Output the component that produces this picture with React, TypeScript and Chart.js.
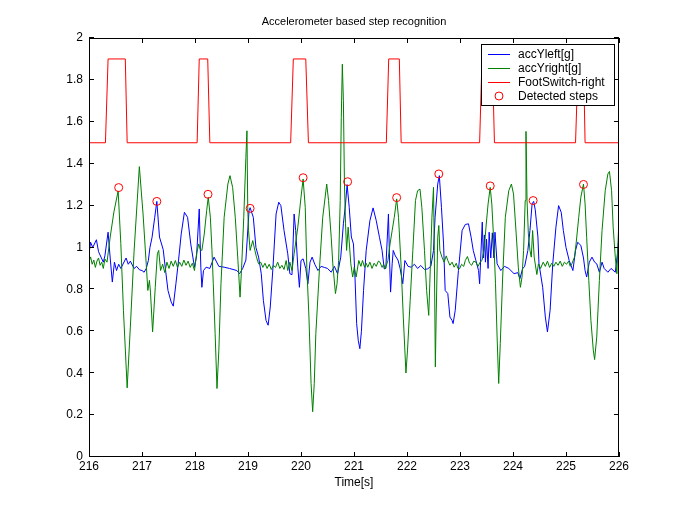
import React, { useEffect, useRef } from 'react';
import { Chart, registerables } from 'chart.js';

Chart.register(...registerables);

const TITLE = 'Accelerometer based step recognition';
const X_LABEL = 'Time[s]';
const SERIES_NAMES = ['accYleft[g]', 'accYright[g]', 'FootSwitch-right', 'Detected steps'];
const SERIES_COLORS = ['#0000ff', '#008000', '#ff0000', '#ff0000'];
const X_TICKS = [216, 217, 218, 219, 220, 221, 222, 223, 224, 225, 226];
const Y_TICKS = [0, 0.2, 0.4, 0.6, 0.8, 1, 1.2, 1.4, 1.6, 1.8, 2];

// accYleft[g]
const leftT = [
  216.00, 216.03, 216.07, 216.14, 216.18, 216.27, 216.30, 216.36, 216.40, 216.44, 216.48, 216.52, 216.56, 216.60,
  216.70, 216.74, 216.78, 216.85, 216.90, 216.95, 217.00, 217.04, 217.08, 217.12, 217.15, 217.19, 217.24, 217.28,
  217.33, 217.40, 217.45, 217.49, 217.55, 217.59, 217.64, 217.69, 217.74, 217.80, 217.86, 217.92, 217.99, 218.03,
  218.08, 218.11, 218.13, 218.16, 218.21, 218.28, 218.36, 218.45, 218.55, 218.65, 218.79, 218.84, 218.90, 218.96,
  219.02, 219.04, 219.10, 219.15, 219.20, 219.25, 219.29, 219.34, 219.38, 219.42, 219.47, 219.53, 219.58, 219.62,
  219.68, 219.75, 219.79, 219.83, 219.87, 219.90, 219.94, 219.97, 220.00, 220.04, 220.09, 220.13, 220.17, 220.21,
  220.26, 220.32, 220.38, 220.44, 220.50, 220.57, 220.63, 220.69, 220.75, 220.80, 220.84, 220.87, 220.91, 220.95,
  220.99, 221.02, 221.05, 221.08, 221.11, 221.14, 221.18, 221.23, 221.30, 221.36, 221.42, 221.48, 221.53, 221.57,
  221.60, 221.65, 221.67, 221.69, 221.72, 221.74, 221.78, 221.83, 221.87, 221.92, 221.96, 222.02, 222.08, 222.14,
  222.20, 222.26, 222.33, 222.39, 222.45, 222.50, 222.53, 222.58, 222.61, 222.65, 222.69, 222.72, 222.77, 222.81,
  222.85, 222.87, 222.91, 222.97, 223.04, 223.10, 223.16, 223.21, 223.25, 223.30, 223.35, 223.37, 223.42, 223.44,
  223.46, 223.48, 223.50, 223.53, 223.55, 223.58, 223.61, 223.64, 223.66, 223.70, 223.77, 223.84, 223.92, 224.02,
  224.09, 224.13, 224.18, 224.22, 224.28, 224.32, 224.36, 224.39, 224.42, 224.47, 224.49, 224.56, 224.61, 224.65,
  224.70, 224.75, 224.81, 224.86, 224.91, 224.95, 225.00, 225.06, 225.13, 225.18, 225.22, 225.28, 225.33, 225.36,
  225.39, 225.44, 225.49, 225.54, 225.58, 225.63, 225.68, 225.72, 225.79, 225.85, 225.93, 225.97, 225.99, 226.00,
];
const leftV = [
  0.97, 1.025, 1.00, 1.037, 0.98, 0.93, 0.96, 1.073, 0.95, 0.835, 0.93, 0.89, 0.92, 0.90,
  0.95, 0.92, 0.935, 0.90, 0.91, 0.894, 0.89, 0.882, 0.90, 0.938, 1.0, 1.049, 1.144, 1.22,
  1.05, 0.99, 0.88, 0.795, 0.74, 0.72, 0.827, 0.94, 1.065, 1.168, 1.144, 1.017, 0.906, 0.96,
  1.184, 0.906, 0.81, 0.89, 0.906, 0.90, 0.954, 0.91, 0.906, 0.90, 0.89, 0.875, 0.90, 0.94,
  1.176, 1.19, 1.144, 1.0, 0.954, 0.875, 0.748, 0.652, 0.629, 0.716, 0.90, 1.16, 1.216, 1.20,
  1.081, 0.97, 0.875, 0.87, 1.16, 1.081, 0.906, 0.81, 0.938, 0.946, 0.90, 0.827, 0.93, 0.954,
  0.92, 0.89, 0.91, 0.905, 0.90, 0.882, 0.91, 0.875, 0.954, 1.113, 1.208, 1.30, 1.192, 1.05,
  1.017, 0.85, 0.637, 0.557, 0.517, 0.60, 0.795, 0.986, 1.128, 1.189, 1.128, 1.049, 0.986, 0.898,
  0.90, 1.16, 0.95, 0.787, 0.922, 0.986, 0.96, 0.94, 0.90, 0.827, 0.938, 0.91, 0.906, 0.92,
  0.90, 0.914, 0.895, 0.898, 0.91, 0.986, 1.144, 1.303, 1.343, 1.192, 1.017, 0.795, 0.78, 0.668,
  0.652, 0.637, 0.70, 0.89, 1.081, 1.11, 1.113, 1.049, 0.986, 0.938, 0.89, 0.827, 1.121, 0.95,
  1.06, 0.93, 1.04, 0.90, 1.073, 0.95, 1.07, 0.95, 1.073, 0.922, 0.89, 0.91, 0.90, 0.875,
  0.88, 0.851, 0.898, 0.91, 0.986, 1.081, 1.208, 1.22, 1.18, 1.05, 0.922, 0.81, 0.668, 0.597,
  0.70, 0.922, 1.097, 1.20, 1.168, 1.081, 1.0, 0.938, 0.89, 0.986, 1.025, 1.01, 0.95, 0.89,
  0.859, 0.93, 0.954, 0.93, 0.922, 0.882, 0.93, 0.90, 0.882, 0.90, 0.882, 0.97, 1.03, 1.0,
];

// accYright[g]
const rightT = [
  216.00, 216.03, 216.06, 216.09, 216.12, 216.15, 216.18, 216.21, 216.24, 216.27, 216.30, 216.34, 216.40, 216.47,
  216.55, 216.60, 216.65, 216.72, 216.78, 216.85, 216.95, 217.02, 217.08, 217.11, 217.14, 217.16, 217.20, 217.25,
  217.29, 217.315, 217.35, 217.39, 217.43, 217.47, 217.51, 217.55, 217.59, 217.63, 217.67, 217.71, 217.75, 217.79,
  217.83, 217.87, 217.91, 217.95, 217.99, 218.03, 218.07, 218.10, 218.13, 218.175, 218.22, 218.25, 218.29, 218.32,
  218.345, 218.38, 218.415, 218.45, 218.49, 218.55, 218.62, 218.66, 218.71, 218.76, 218.81, 218.85, 218.88, 218.92,
  218.96, 218.98, 218.995, 219.01, 219.04, 219.09, 219.13, 219.16, 219.20, 219.24, 219.28, 219.32, 219.36, 219.40,
  219.44, 219.48, 219.52, 219.56, 219.60, 219.64, 219.68, 219.72, 219.75, 219.79, 219.83, 219.87, 219.94, 220.00,
  220.04, 220.08, 220.11, 220.15, 220.19, 220.22, 220.25, 220.28, 220.35, 220.41, 220.485, 220.52, 220.57, 220.60,
  220.65, 220.68, 220.71, 220.74, 220.76, 220.78, 220.80, 220.82, 220.84, 220.86, 220.89, 220.94, 220.975, 221.005,
  221.04, 221.09, 221.13, 221.16, 221.20, 221.23, 221.26, 221.30, 221.34, 221.38, 221.42, 221.46, 221.49, 221.53,
  221.56, 221.59, 221.64, 221.68, 221.72, 221.76, 221.805, 221.84, 221.89, 221.93, 221.98, 222.01, 222.06, 222.11,
  222.16, 222.20, 222.245, 222.28, 222.33, 222.37, 222.41, 222.43, 222.47, 222.50, 222.515, 222.535, 222.55, 222.58,
  222.60, 222.62, 222.66, 222.70, 222.74, 222.77, 222.81, 222.85, 222.89, 222.93, 222.96, 222.99, 223.03, 223.07,
  223.10, 223.14, 223.18, 223.22, 223.26, 223.30, 223.34, 223.38, 223.415, 223.46, 223.49, 223.53, 223.57, 223.60,
  223.64, 223.67, 223.70, 223.73, 223.76, 223.805, 223.855, 223.92, 223.97, 224.01, 224.06, 224.10, 224.14, 224.17,
  224.20, 224.23, 224.245, 224.265, 224.29, 224.32, 224.345, 224.37, 224.40, 224.45, 224.48, 224.52, 224.57, 224.61,
  224.65, 224.69, 224.73, 224.77, 224.81, 224.85, 224.89, 224.93, 224.97, 225.01, 225.05, 225.08, 225.11, 225.16,
  225.19, 225.24, 225.28, 225.33, 225.36, 225.39, 225.43, 225.47, 225.515, 225.54, 225.58, 225.63, 225.68, 225.74,
  225.79, 225.82, 225.86, 225.89, 225.93, 225.96, 225.99, 226.00,
];
const rightV = [
  0.93, 0.955, 0.92, 0.94, 0.905, 0.935, 0.95, 0.915, 0.93, 0.90, 0.945, 0.93, 1.05, 1.17,
  1.27, 1.02, 0.70, 0.33, 0.62, 0.98, 1.386, 1.16, 0.92, 0.795, 0.843, 0.787, 0.597, 0.81,
  0.97, 0.986, 0.89, 0.92, 0.88, 0.93, 0.90, 0.935, 0.91, 0.938, 0.905, 0.93, 0.91, 0.94,
  0.915, 0.935, 0.905, 0.925, 0.89, 0.97, 1.017, 0.99, 0.986, 1.065, 1.176, 1.24, 1.144, 0.986,
  0.827, 0.589, 0.327, 0.51, 0.827, 1.144, 1.303, 1.343, 1.287, 1.144, 0.938, 0.763, 0.906, 1.144,
  1.43, 1.557, 1.19, 1.081, 0.986, 1.033, 0.986, 0.954, 0.922, 0.93, 0.905, 0.925, 0.90, 0.92,
  0.895, 0.915, 0.905, 0.93, 0.90, 0.915, 0.895, 0.938, 0.89, 0.93, 0.89, 0.97, 1.097, 1.24,
  1.327, 1.192, 0.906, 0.668, 0.351, 0.216, 0.351, 0.589, 0.906, 1.144, 1.303, 1.224, 1.049, 0.922,
  0.78, 0.827, 0.938, 1.224, 1.62, 1.875, 1.70, 1.303, 1.113, 0.986, 1.097, 0.922, 0.859, 0.906,
  0.859, 0.938, 0.91, 0.938, 0.905, 0.925, 0.906, 0.93, 0.90, 0.925, 0.91, 0.935, 0.93, 0.905,
  0.92, 0.898, 0.938, 1.017, 1.081, 1.144, 1.232, 1.144, 0.906, 0.668, 0.401, 0.51, 0.748, 0.986,
  1.224, 1.271, 1.279, 1.192, 0.986, 0.795, 0.676, 0.827, 1.144, 1.287, 0.986, 0.43, 0.668, 1.049,
  1.105, 0.986, 0.954, 0.93, 0.96, 0.938, 0.915, 0.93, 0.906, 0.925, 0.90, 0.898, 0.92, 0.91,
  0.938, 0.957, 0.925, 0.915, 0.935, 0.93, 0.91, 0.93, 0.938, 1.0, 1.097, 1.208, 1.287, 1.208,
  1.017, 0.827, 0.573, 0.351, 0.541, 0.859, 1.144, 1.271, 1.303, 1.255, 1.065, 0.906, 0.81, 0.859,
  0.986, 1.224, 1.554, 1.224, 1.065, 0.986, 0.954, 1.081, 0.954, 0.871, 0.922, 0.90, 0.93, 0.91,
  0.935, 0.905, 0.925, 0.91, 0.93, 0.915, 0.935, 0.91, 0.93, 0.92, 0.935, 0.91, 0.922, 0.954,
  1.017, 1.144, 1.24, 1.303, 1.208, 1.049, 0.843, 0.652, 0.51, 0.465, 0.573, 0.843, 1.081, 1.271,
  1.351, 1.363, 1.271, 1.097, 0.954, 0.875, 1.081, 1.462,
];

// FootSwitch-right
const footT = [
  216.00, 216.31, 216.36, 216.685, 216.72, 218.04, 218.08, 218.24, 218.28, 219.805, 219.855, 220.09, 220.14,
  221.61, 221.655, 221.855, 221.89, 223.37, 223.415, 223.61, 223.65, 225.18, 225.23, 225.33, 225.36, 226.00,
];
const footV = [
  1.5, 1.5, 1.9, 1.9, 1.5, 1.5, 1.9, 1.9, 1.5, 1.5, 1.9, 1.9, 1.5,
  1.5, 1.9, 1.9, 1.5, 1.5, 1.9, 1.9, 1.5, 1.5, 1.9, 1.9, 1.5, 1.5,
];

// Detected steps
const stepT = [216.56, 217.28, 218.245, 219.04, 220.04, 220.88, 221.805, 222.60, 223.57, 224.38, 225.33];
const stepV = [1.286, 1.22, 1.254, 1.187, 1.333, 1.314, 1.238, 1.351, 1.294, 1.224, 1.301];

const FONT = '"Liberation Sans", Arial, Helvetica, sans-serif';

const toPoints = (t: number[], v: number[]) => t.map((x, i) => ({ x, y: v[i] }));

const framePlugin = {
  id: 'matlabFrame',
  beforeDraw(chart: any) {
    const { ctx, width, height } = chart;
    ctx.save();
    ctx.fillStyle = '#ffffff';
    ctx.fillRect(0, 0, width, height);
    ctx.restore();
  },
  afterDraw(chart: any) {
    const { ctx, chartArea } = chart;
    const { left, right, top, bottom } = chartArea;
    const xs = chart.scales.x;
    const ys = chart.scales.y;
    ctx.save();
    ctx.strokeStyle = '#000000';
    ctx.lineWidth = 1;
    ctx.strokeRect(left + 0.5, top + 0.5, right - left - 1, bottom - top - 1);
    ctx.beginPath();
    const tl = 5;
    X_TICKS.forEach((v) => {
      const px = Math.round(xs.getPixelForValue(v)) + 0.5;
      ctx.moveTo(px, bottom);
      ctx.lineTo(px, bottom - tl);
      ctx.moveTo(px, top);
      ctx.lineTo(px, top + tl);
    });
    Y_TICKS.forEach((v) => {
      const py = Math.round(ys.getPixelForValue(v)) - 0.5;
      ctx.moveTo(left, py);
      ctx.lineTo(left + tl, py);
      ctx.moveTo(right, py);
      ctx.lineTo(right - tl, py);
    });
    ctx.stroke();

    ctx.fillStyle = '#000000';
    ctx.textAlign = 'center';
    ctx.textBaseline = 'middle';
    const cx = (left + right) / 2;
    ctx.font = '11px ' + FONT;
    ctx.fillText(TITLE, cx, top - 16);
    ctx.font = '12px ' + FONT;
    ctx.fillText(X_LABEL, cx, bottom + 26);

    // legend
    const boxW = 133;
    const boxH = 61;
    const bx = right - 5 - boxW;
    const by = top + 6;
    ctx.fillStyle = '#ffffff';
    ctx.fillRect(bx, by, boxW, boxH);
    ctx.strokeStyle = '#000000';
    ctx.strokeRect(bx + 0.5, by + 0.5, boxW, boxH);
    ctx.textAlign = 'left';
    SERIES_NAMES.forEach((name, i) => {
      const cy = by + 10 + i * 14;
      ctx.strokeStyle = SERIES_COLORS[i];
      ctx.lineWidth = 1;
      if (i < 3) {
        ctx.beginPath();
        ctx.moveTo(bx + 7, Math.round(cy) + 0.5);
        ctx.lineTo(bx + 29, Math.round(cy) + 0.5);
        ctx.stroke();
      } else {
        ctx.beginPath();
        ctx.arc(bx + 18, cy, 4, 0, Math.PI * 2);
        ctx.stroke();
      }
      ctx.fillStyle = '#000000';
      ctx.fillText(name, bx + 37, cy + 1);
    });
    ctx.restore();
  },
};

export default function App() {
  const canvasRef = useRef<HTMLCanvasElement | null>(null);

  useEffect(() => {
    const canvas = canvasRef.current;
    if (!canvas) return;
    const tickFont = { family: FONT, size: 12 };
    const chart = new Chart(canvas, {
      type: 'line',
      data: {
        datasets: [
          {
            label: SERIES_NAMES[0],
            data: toPoints(leftT, leftV),
            borderColor: SERIES_COLORS[0],
            borderWidth: 1,
            pointRadius: 0,
            tension: 0,
            order: 4,
          },
          {
            label: SERIES_NAMES[1],
            data: toPoints(rightT, rightV),
            borderColor: SERIES_COLORS[1],
            borderWidth: 1,
            pointRadius: 0,
            tension: 0,
            order: 3,
          },
          {
            label: SERIES_NAMES[2],
            data: toPoints(footT, footV),
            borderColor: SERIES_COLORS[2],
            borderWidth: 1,
            pointRadius: 0,
            tension: 0,
            order: 2,
          },
          {
            label: SERIES_NAMES[3],
            data: toPoints(stepT, stepV),
            borderColor: SERIES_COLORS[3],
            backgroundColor: 'rgba(0,0,0,0)',
            showLine: false,
            pointRadius: 4,
            pointBorderWidth: 1,
            pointStyle: 'circle',
            order: 1,
          },
        ],
      },
      options: {
        responsive: false,
        animation: false,
        events: [],
        layout: { padding: { top: 38, right: 66, bottom: 0, left: 0 } },
        scales: {
          x: {
            type: 'linear',
            min: 216,
            max: 226,
            afterBuildTicks: (s: any) => {
              s.ticks = X_TICKS.map((value) => ({ value }));
            },
            afterFit: (s: any) => {
              s.height = 56;
              s.paddingLeft = 0;
              s.paddingRight = 0;
            },
            ticks: {
              color: '#000000',
              font: tickFont,
              padding: 2,
              maxRotation: 0,
              autoSkip: false,
              callback: (v: any) => String(v),
            },
            grid: { display: false, drawTicks: false },
            border: { display: false },
          },
          y: {
            min: 0,
            max: 2,
            afterBuildTicks: (s: any) => {
              s.ticks = Y_TICKS.map((value) => ({ value }));
            },
            afterFit: (s: any) => {
              s.width = 89;
              s.paddingTop = 0;
              s.paddingBottom = 0;
            },
            ticks: {
              color: '#000000',
              font: tickFont,
              padding: 6,
              autoSkip: false,
              callback: (v: any) => String(+Number(v).toFixed(1)),
            },
            grid: { display: false, drawTicks: false },
            border: { display: false },
          },
        },
        plugins: {
          legend: { display: false },
          title: { display: false },
          tooltip: { enabled: false },
        },
      },
      plugins: [framePlugin],
    });
    return () => chart.destroy();
  }, []);

  return (
    <div style={{ position: 'fixed', left: 0, top: 0, width: 685, height: 513, background: '#fff' }}>
      <canvas ref={canvasRef} width={685} height={513} style={{ display: 'block', width: 685, height: 513 }} />
    </div>
  );
}
